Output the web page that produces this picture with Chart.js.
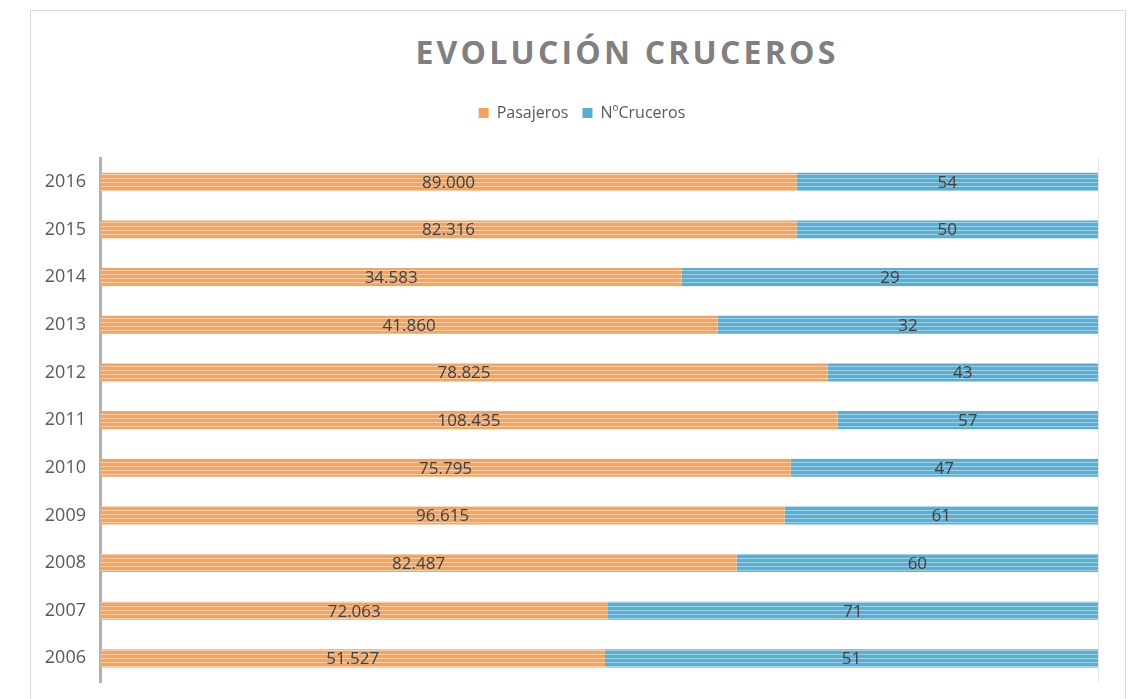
<!DOCTYPE html>
<html lang="es">
<head>
<meta charset="utf-8">
<title>Evolución cruceros</title>
<script src="https://cdn.jsdelivr.net/npm/chart.js@4.4.1/dist/chart.umd.min.js"></script>
<style>
    html, body { margin: 0; padding: 0; background: #fff; }
    body { width: 1138px; height: 699px; overflow: hidden; position: relative; font-family: "Open Sans", sans-serif; }
    .card { position: absolute; left: 30px; top: 10px; width: 1094px; height: 720px; border: 1px solid #d9d9d9; }
    h1 { position: absolute; left: 0; width: 1254px; top: 30px; margin: 0; text-align: center; font-size: 32px; font-weight: 700; letter-spacing: 3.2px; color: #808080; }
    #wrap { position: absolute; left: 0; top: 0; width: 1138px; height: 699px; }
</style>
</head>
<body>
<div class="card"></div>
<h1>EVOLUCIÓN CRUCEROS</h1>
<div id="wrap"><canvas id="cruisesChart"></canvas></div>
<script>
// years, top to bottom as in the picture
const years = ["2016", "2015", "2014", "2013", "2012", "2011", "2010", "2009", "2008", "2007", "2006"];
// values printed on the bars
const pasajeros = [89000, 82316, 34583, 41860, 78825, 108435, 75795, 96615, 82487, 72063, 51527];
const cruceros = [54, 50, 29, 32, 43, 57, 47, 61, 60, 71, 51];
// share of each bar (100% stacked)
const pasajerosShare = [69.8, 69.8, 58.3, 61.9, 72.9, 73.9, 69.2, 68.6, 63.8, 50.9, 50.6];
const crucerosShare = [30.2, 30.2, 41.7, 38.1, 27.1, 26.1, 30.8, 31.4, 36.2, 49.1, 49.4];

const colors = {
    orange: "#f2a465",
    orangeLight: "#f9cda6",
    blue: "#5aaed2",
    blueLight: "#9fd2e8",
    text: "#404040",
    axis: "#595959",
};

// horizontal stripes like the Excel texture
function stripes(base, light) {
    const c = document.createElement("canvas");
    c.width = 4;
    c.height = 4;
    const g = c.getContext("2d");
    g.fillStyle = base;
    g.fillRect(0, 0, 4, 4);
    g.fillStyle = light;
    g.fillRect(0, 2, 4, 1);
    return g.createPattern(c, "repeat");
}

function fmtThousands(n) {
    return String(n).replace(/\B(?=(\d{3})+(?!\d))/g, ".");
}

// draws the value in the middle of each segment
const barLabels = {
    id: "barLabels",
    afterDatasetsDraw(chart) {
        const ctx = chart.ctx;
        ctx.save();
        ctx.font = "17px 'Open Sans'";
        ctx.fillStyle = colors.text;
        ctx.textAlign = "center";
        ctx.textBaseline = "middle";
        chart.data.datasets.forEach((ds, i) => {
            const meta = chart.getDatasetMeta(i);
            meta.data.forEach((bar, j) => {
                const p = bar.getCenterPoint();
                const txt = i === 0 ? fmtThousands(pasajeros[j]) : String(cruceros[j]);
                ctx.fillText(txt, p.x, p.y + 1);
            });
        });
        ctx.restore();
    },
};

// extra room below the legend, and legend centred a bit to the right like Excel
const legendTweak = {
    id: "legendTweak",
    beforeInit(chart) {
        const fit = chart.legend.fit;
        chart.legend.fit = function () {
            fit.bind(chart.legend)();
            this.height += 27;
        };
    },
    afterLayout(chart) {
        chart.legend.left += 18;
        chart.legend.right += 18;
    },
};

const ctx = document.getElementById("cruisesChart").getContext("2d");

new Chart(ctx, {
    type: "bar",
    data: {
        labels: years,
        datasets: [
            {
                label: "Pasajeros",
                data: pasajerosShare,
                backgroundColor: stripes(colors.orange, colors.orangeLight),
                borderWidth: 0,
                categoryPercentage: 1,
                barPercentage: 0.38,
            },
            {
                label: "NºCruceros",
                data: crucerosShare,
                backgroundColor: stripes(colors.blue, colors.blueLight),
                borderWidth: 0,
                categoryPercentage: 1,
                barPercentage: 0.38,
            },
        ],
    },
    options: {
        indexAxis: "y",
        responsive: true,
        maintainAspectRatio: false,
        animation: false,
        layout: { padding: { top: 91, left: 30, right: 40, bottom: 9 } },
        plugins: {
            legend: {
                position: "top",
                labels: {
                    font: { family: "'Open Sans'", size: 16 },
                    color: colors.axis,
                    boxWidth: 10,
                    boxHeight: 10,
                    padding: 14,
                    generateLabels(chart) {
                        return chart.data.datasets.map((ds, i) => ({
                            text: ds.label,
                            fillStyle: i === 0 ? colors.orange : colors.blue,
                            strokeStyle: "transparent",
                            lineWidth: 0,
                            datasetIndex: i,
                            fontColor: colors.axis,
                        }));
                    },
                },
            },
            title: { display: false },
            tooltip: { enabled: false },
        },
        scales: {
            x: {
                stacked: true,
                min: 0,
                max: 100,
                ticks: { display: false, stepSize: 100 },
                grid: {
                    drawTicks: false,
                    color: (c) => (c.tick && c.tick.value === 100 ? "#e3e3e3" : "transparent"),
                },
                border: { display: false },
                afterFit(scale) {
                    scale.height = 0;
                },
            },
            y: {
                stacked: true,
                ticks: {
                    font: { family: "'Open Sans'", size: 18 },
                    color: colors.axis,
                    padding: 6,
                },
                grid: { display: false },
                border: { display: true, color: "#b0b0b0", width: 3 },
                afterFit(scale) {
                    scale.width = 70;
                },
            },
        },
    },
    plugins: [barLabels, legendTweak],
});
</script>
</body>
</html>
